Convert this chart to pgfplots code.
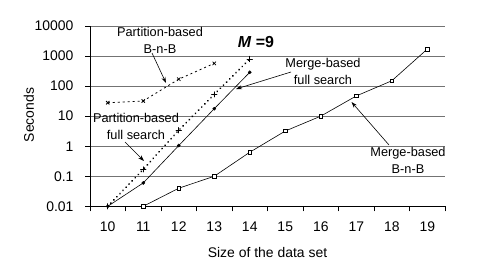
\documentclass[border=0pt]{standalone}
\usepackage{fontspec}
\setmainfont{Liberation Sans}
\usepackage{pgfplots}
\pgfplotsset{compat=1.18}
\usetikzlibrary{arrows.meta}
\begin{document}
\begin{tikzpicture}
\begin{axis}[
  at={(0,0)}, anchor=south west,
  scale only axis, width=355bp, height=180.3bp,
  ymode=log, ymin=0.01, ymax=10000,
  xmin=9.5, xmax=19.5,
  axis x line=bottom, axis y line=left,
  axis line style={-, black, line width=0.8pt},
  xtick={9.5,10.5,...,19.5},
  x tick label as interval,
  xticklabels={10,11,12,13,14,15,16,17,18,19},
  ytick={0.01,0.1,1,10,100,1000,10000},
  yticklabels={0.01,0.1,1,10,100,1000,10000},
  minor ytick={}, yminorticks=false,
  tick align=outside,
  major tick length=5bp,
  tick style={black, line width=0.8pt},
  ymajorgrids,
  major grid style={black!55, line width=0.7pt},
  tick label style={font=\fontsize{14}{16}\selectfont},
  xticklabel style={font=\fontsize{14}{16}\selectfont, yshift=-7bp},
  yticklabel style={font=\fontsize{14}{16}\selectfont, xshift=-8bp},
  /pgf/number format/assume math mode=true,
  clip=false,
]
\addplot[black, line width=0.6pt, mark=square*, mark size=1.7bp,
  mark options={fill=white, line width=0.5pt}]
  coordinates {(11,0.01)(12,0.04)(13,0.1)(14,0.63)(15,3.2)(16,10)(17,47)(18,150)(19,1700)};
\addplot[black, line width=0.6pt, mark=*, mark size=1.5bp]
  coordinates {(10,0.01)(11,0.06)(12,1.05)(13,17.7)(14,288)};
\addplot[black, line width=2pt, line cap=round, dash pattern=on 0.01pt off 4.4bp,
  mark=+, mark size=2.6bp, mark options={solid, line width=0.9pt}]
  coordinates {(10,0.01)(11,0.17)(12,3.4)(13,53)(14,800)};
\addplot[black, line width=0.8pt, dash pattern=on 2bp off 3bp,
  mark=x, mark size=2.4bp, mark options={solid, line width=0.8pt}]
  coordinates {(10,28)(11,32)(12,170)(13,570)};
\end{axis}
\begin{scope}[shift={(-90bp,206.3bp)}, x=1bp, y=-1bp]
  \node[rotate=90, font=\fontsize{14}{16}\selectfont] at (29,115) {Seconds};
  \node[font=\fontsize{14}{16}\selectfont] at (267.5,253) {Size of the data set};
  \node[font=\fontsize{16}{18}\selectfont] at (256,42) {\textbf{\textit{M} =9}};
  \node[font=\fontsize{12.8}{17}\selectfont, align=center, inner sep=0pt] at (160,40.5) {Partition-based\\B-n-B};
  \node[font=\fontsize{12.8}{17}\selectfont, align=center, inner sep=0pt] at (323,71.5) {Merge-based\\full search};
  \node[font=\fontsize{12.8}{17}\selectfont, align=center, inner sep=0pt] at (136,126.5) {Partition-based\\full search};
  \node[font=\fontsize{12.8}{17}\selectfont, align=center, inner sep=0pt] at (408,160) {Merge-based\\B-n-B};
  \draw[black, line width=0.6pt, -{Stealth[length=6bp,width=4bp]}] (152,53) -- (166,83);
  \draw[black, line width=0.6pt, -{Stealth[length=6bp,width=4bp]}] (291,72) -- (236,89);
  \draw[black, line width=0.6pt, -{Stealth[length=6bp,width=4bp]}] (125,142) -- (144,161);
  \draw[black, line width=0.6pt, -{Stealth[length=6bp,width=4bp]}] (389,145) -- (351.5,102);
  \pgfresetboundingbox
  \path[use as bounding box] (0,0) rectangle (478,269);
\end{scope}
\end{tikzpicture}
\end{document}
